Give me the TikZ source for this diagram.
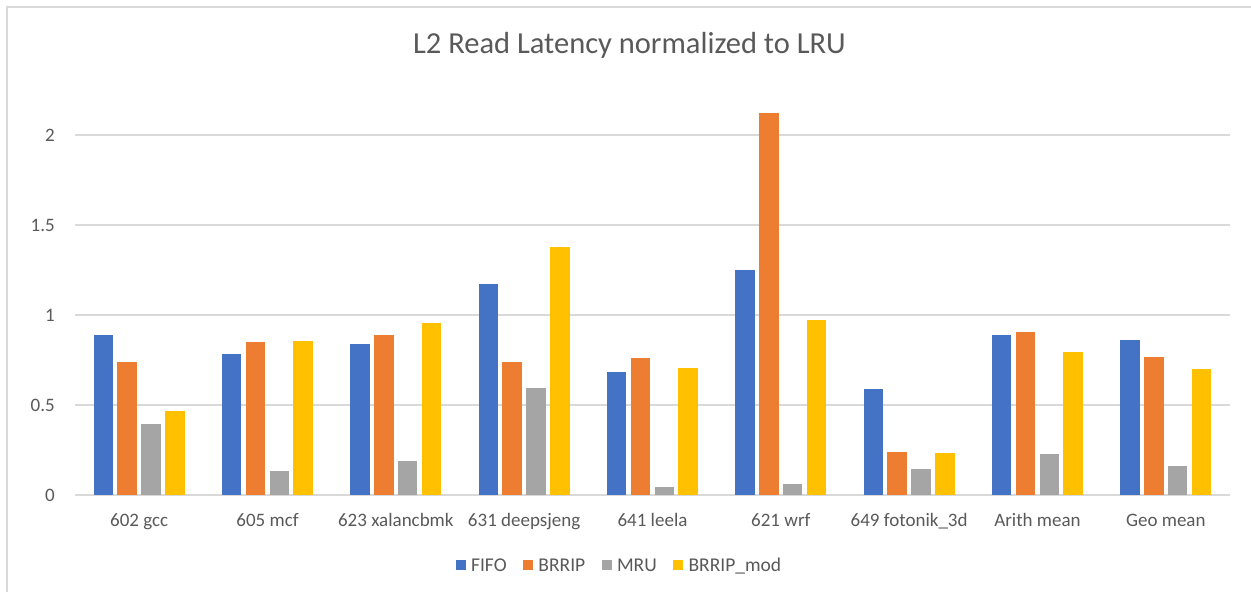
\documentclass[tikz,border=0pt]{standalone}
\usepackage{fontspec}
\setmainfont{Carlito}
\usetikzlibrary{positioning}
\definecolor{fifo}{HTML}{4472C4}
\definecolor{brrip}{HTML}{ED7D31}
\definecolor{mru}{HTML}{A5A5A5}
\definecolor{brripmod}{HTML}{FFC000}
\definecolor{gridgray}{HTML}{D9D9D9}
\definecolor{textgray}{HTML}{595959}

\begin{document}
\begin{tikzpicture}[x=1pt,y=1pt,
		gridline/.style={gridgray, line width=1.5pt},
		ticklabel/.style={textgray, inner sep=0pt,
			font=\fontsize{19}{19}\selectfont},
		legendbox/.style={minimum size=10pt, inner sep=0pt},
		legendtext/.style={textgray, inner sep=0pt,
			text height=12.5pt, text depth=0pt,
			font=\fontsize{19.5}{19.5}\selectfont}]
		\useasboundingbox (0,0) rectangle (1251,592);
		% chart frame
		\draw[gridgray, line width=2pt] (7,0) -- (7,585) -- (1251,585);
		% title
		\node[textgray, inner sep=0pt, anchor=base,
		font=\fontsize{30.5}{30.5}\selectfont] (title) at (629.5,538) {L2 Read Latency normalized to LRU};

		\begin{scope}[shift={(75,97)}]
			% grid and y axis labels
			\foreach \t [count=\k] in {0,0.5,1,1.5,2}
			{
				\draw[gridline] (0,180*\t) -- (1155,180*\t);
				\node[ticklabel, anchor=east] (ylab\k) at (-20,180*\t) {\t};
			}
			% bars
			\foreach \c/\j/\vals in {
				fifo/0/{0.889,0.783,0.837,1.171,0.683,1.252,0.589,0.889,0.859},
				brrip/1/{0.737,0.848,0.889,0.737,0.761,2.120,0.239,0.906,0.765},
				mru/2/{0.396,0.133,0.191,0.594,0.044,0.061,0.144,0.226,0.163},
				brripmod/3/{0.467,0.854,0.954,1.376,0.707,0.970,0.233,0.794,0.700}}
			{
				\foreach \v [count=\i from 0] in \vals
				\fill[\c] ({128.33*(\i+0.5)-45.5+23.8*\j},0) rectangle ++(19.5,180*\v);
			}
			% category labels
			\foreach \name [count=\i from 0] in {602 gcc,605 mcf,623 xalancbmk,
				631 deepsjeng,641 leela,621 wrf,649 fotonik\_3d,Arith mean,Geo mean}
			\node[ticklabel, anchor=base] (cat\i) at ({128.33*(\i+0.5)},-32) {\name};
		\end{scope}

		% legend
		\node[legendbox, fill=fifo] (keyfifo) at (460.7,27) {};
		\node[legendtext, right=5pt of keyfifo] (txtfifo) {FIFO};
		\node[legendbox, fill=brrip, right=16pt of txtfifo] (keybrrip) {};
		\node[legendtext, right=5pt of keybrrip] (txtbrrip) {BRRIP};
		\node[legendbox, fill=mru, right=16pt of txtbrrip] (keymru) {};
		\node[legendtext, right=5pt of keymru] (txtmru) {MRU};
		\node[legendbox, fill=brripmod, right=16pt of txtmru] (keymod) {};
		\node[legendtext, right=5pt of keymod] (txtmod) {BRRIP\_mod};
\end{tikzpicture}
\end{document}
